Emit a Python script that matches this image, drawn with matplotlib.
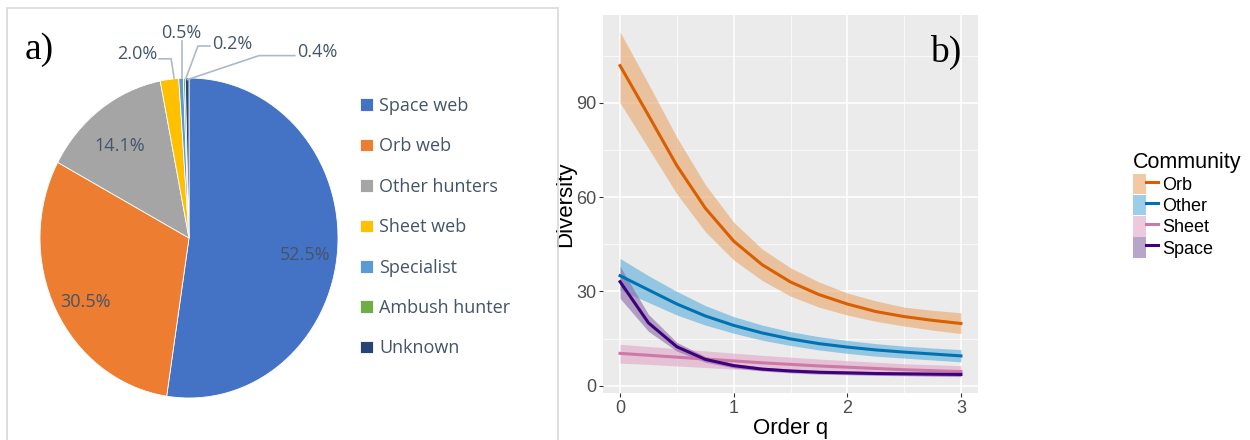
import matplotlib.pyplot as plt
import numpy as np
from matplotlib.patches import Patch, Rectangle
from matplotlib.lines import Line2D
from matplotlib.legend_handler import HandlerTuple

# --- panel a: guild composition ---
guilds = ['Space web', 'Orb web', 'Other hunters', 'Sheet web',
          'Specialist', 'Ambush hunter', 'Unknown']
shares = [52.5, 30.5, 14.1, 2.0, 0.5, 0.2, 0.4]
guild_colors = ['#4472C4', '#ED7D31', '#A5A5A5', '#FFC000',
                '#5B9BD5', '#70AD47', '#264478']

# --- panel b: diversity profiles ---
q = [0, 0.25, 0.5, 0.75, 1, 1.25, 1.5, 1.75, 2, 2.25, 2.5, 2.75, 3]
orb = [101.8, 86, 70, 56.5, 46, 38.5, 33, 29, 26, 23.6, 22, 20.8, 19.8]
orb_lo = [90, 75.5, 61, 49, 40, 33.5, 28.5, 25, 22.5, 20.5, 19, 17.7, 16.6]
orb_hi = [112.5, 96, 79, 64, 52, 43.5, 37.5, 33, 29.5, 27, 25, 24, 23.2]
other = [35, 30.5, 26, 22.2, 19.2, 16.8, 14.9, 13.4, 12.3, 11.4, 10.7, 10.1, 9.5]
other_lo = [30.5, 26.5, 22.5, 19.3, 16.7, 14.5, 12.8, 11.4, 10.3, 9.4, 8.8, 8.2, 7.6]
other_hi = [40.5, 35, 30, 25.5, 22, 19.3, 17.2, 15.6, 14.4, 13.4, 12.6, 12, 11.5]
sheet = [10.3, 9.7, 9.1, 8.5, 7.9, 7.3, 6.8, 6.3, 5.9, 5.5, 5.1, 4.8, 4.5]
sheet_lo = [7.2, 6.8, 6.3, 5.8, 5.3, 4.9, 4.5, 4.1, 3.8, 3.5, 3.3, 3.1, 2.9]
sheet_hi = [13.2, 12.5, 11.8, 11.1, 10.4, 9.7, 9.1, 8.5, 8.0, 7.5, 7.0, 6.7, 6.4]
space = [33.1, 20, 12.4, 8.4, 6.4, 5.3, 4.7, 4.3, 4.1, 3.9, 3.8, 3.7, 3.6]
space_lo = [27.8, 17.3, 11, 7.5, 5.7, 4.7, 4.1, 3.7, 3.5, 3.3, 3.2, 3.1, 3.0]
space_hi = [38, 22.7, 13.8, 9.3, 7.1, 5.9, 5.3, 4.9, 4.7, 4.5, 4.4, 4.3, 4.2]
communities = ['Orb', 'Other', 'Sheet', 'Space']
comm_colors = ['#D95F02', '#0072B2', '#CC79A7', '#3F007D']
comm_fills = ['#E8A66A', '#5BAEDB', '#E2A6C7', '#8A6AA8']

W, H = 1250, 440
fig = plt.figure(figsize=(12.5, 4.4), dpi=100)
gg_font = ['Liberation Sans', 'DejaVu Sans']

def box(x0, y0, x1, y1):
    # pixel box (top-left origin) -> figure fractions
    return [x0 / W, 1 - y1 / H, (x1 - x0) / W, (y1 - y0) / H]

# frame around panel a
fig.patches.append(Rectangle((7 / W, -0.01), (551 / W), 1 - 8 / H + 0.01,
                             transform=fig.transFigure, fill=False,
                             edgecolor='#D9D9D9', lw=1.2))

lab_col = '#44546A'
ax1 = fig.add_axes(box(40, 78, 338, 398))
wedges, _ = ax1.pie(shares, colors=guild_colors, startangle=90,
                    counterclock=False,
                    wedgeprops=dict(edgecolor='white', linewidth=0.6))
ax1.set_aspect('auto')
ax1.set_xlim(-1, 1)
ax1.set_ylim(-1, 1)

# percentages inside the three big wedges
for w, s in zip(wedges[:3], shares[:3]):
    mid = np.deg2rad((w.theta1 + w.theta2) / 2)
    ax1.text(0.78 * np.cos(mid), 0.78 * np.sin(mid) - 0.05, f'{s:.1f}%',
             ha='center', va='center', fontsize=13, color=lab_col,
             family='Open Sans')

# small wedges labelled outside with leader lines
outside = [(3, (-0.35, 1.15), [(-0.2, 1.12), (-0.12, 1.12), (-0.1, 1.0)]),
           (4, (-0.05, 1.28), [(-0.05, 1.23), (-0.05, 1.0)]),
           (5, (0.29, 1.21), [(0.14, 1.2), (0.06, 1.2), (-0.02, 1.0)]),
           (6, (0.86, 1.165), [(0.71, 1.14), (0.47, 1.14), (-0.01, 0.99)])]
for i, (tx, ty), pts in outside:
    ax1.text(tx, ty, f'{shares[i]:.1f}%', ha='center', va='center',
             fontsize=13, color=lab_col, family='Open Sans')
    xs, ys = zip(*pts)
    ax1.plot(xs, ys, color='#ADB9CA', lw=1.2, clip_on=False)

leg1 = fig.legend(wedges, guilds, loc='upper left',
                  bbox_to_anchor=(360 / W, 1 - 97 / H), frameon=False,
                  borderpad=0, borderaxespad=0, handlelength=0.7,
                  handleheight=0.7, handletextpad=0.35, labelspacing=1.24,
                  prop=dict(family='Open Sans', size=13))
for t in leg1.get_texts():
    t.set_color(lab_col)

fig.text(25 / W, 1 - 50 / H, 'a)', fontsize=27, family='Liberation Serif',
         va='center', ha='left')

# --- panel b ---
ax2 = fig.add_axes(box(603, 15, 978, 393))
ax2.set_facecolor('#EBEBEB')
series = [(orb, orb_lo, orb_hi), (other, other_lo, other_hi),
          (sheet, sheet_lo, sheet_hi), (space, space_lo, space_hi)]
handles = []
for (y, lo, hi), c, f in zip(series, comm_colors, comm_fills):
    ax2.fill_between(q, lo, hi, color=f, alpha=0.6, lw=0, zorder=2)
for (y, lo, hi), c, f in zip(series, comm_colors, comm_fills):
    ax2.plot(q, y, color=c, lw=2.2, zorder=3)
    handles.append((Patch(facecolor=f, alpha=0.6, lw=0),
                    Line2D([], [], color=c, lw=2.2)))

ax2.set_xlim(-0.15, 3.15)
ax2.set_ylim(-2.3, 117.9)
ax2.set_xticks([0, 1, 2, 3])
ax2.set_yticks([0, 30, 60, 90])
ax2.set_xticks([0.5, 1.5, 2.5], minor=True)
ax2.set_yticks([15, 45, 75, 105], minor=True)
ax2.grid(which='major', color='white', lw=1.1, zorder=0)
ax2.grid(which='minor', color='white', lw=0.5, zorder=0)
ax2.set_axisbelow(True)
for s in ax2.spines.values():
    s.set_visible(False)
ax2.tick_params(which='major', length=3, color='#333333', labelsize=13,
                labelcolor='#4D4D4D', pad=2)
ax2.tick_params(which='minor', length=0)
for t in ax2.get_xticklabels() + ax2.get_yticklabels():
    t.set_family(gg_font)
ax2.set_xlabel('Order q', fontsize=16, family=gg_font, labelpad=1)
ax2.set_ylabel('Diversity', fontsize=16, family=gg_font, labelpad=0)
ax2.text(0.955, 0.9, 'b)', transform=ax2.transAxes, fontsize=27,
         family='Liberation Serif', ha='right', va='center')

leg2 = fig.legend(handles, communities, title='Community', loc='upper left',
                  bbox_to_anchor=(1133 / W, 1 - 152 / H), frameon=False,
                  borderpad=0, borderaxespad=0, handlelength=1.4,
                  handleheight=1.35, handletextpad=0.2, labelspacing=0.05,
                  handler_map={tuple: HandlerTuple(ndivide=None, pad=0)},
                  prop=dict(family=gg_font, size=13))
leg2.get_title().set_fontsize(15.5)
leg2.get_title().set_family(gg_font)
leg2._legend_box.align = 'left'

fig.savefig('out.png', dpi=100)
